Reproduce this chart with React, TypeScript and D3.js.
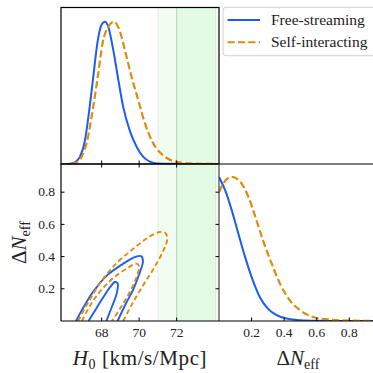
import React from "react";
import * as d3 from "d3";

// 1D marginal of H0 (normalised to peak)
const blueH0: [number, number][] = [
  [65.83, 0], [66.2, 0], [66.45, 0.005], [66.65, 0.02], [66.84, 0.05], [67.1, 0.16],
  [67.34, 0.38], [67.55, 0.61], [67.77, 0.85], [68.0, 0.98], [68.18, 1.0], [68.35, 0.965],
  [68.62, 0.8], [68.89, 0.59], [69.15, 0.4], [69.5, 0.235], [69.87, 0.12], [70.22, 0.05],
  [70.6, 0.015], [71.0, 0.004], [71.5, 0.001], [72.5, 0], [74.26, 0],
];
const orangeH0: [number, number][] = [
  [65.83, 0], [66.3, 0], [66.6, 0.008], [66.93, 0.05], [67.23, 0.165], [67.52, 0.38],
  [67.79, 0.61], [68.05, 0.85], [68.35, 0.965], [68.66, 1.0], [68.98, 0.93], [69.24, 0.8],
  [69.6, 0.61], [69.95, 0.45], [70.31, 0.285], [70.75, 0.145], [71.29, 0.06], [72.0, 0.015],
  [72.9, 0.003], [73.5, 0.001], [74.26, 0],
];

// 1D marginal of ΔNeff
const blueDN: [number, number][] = [
  [0, 1.0], [0.037, 0.91], [0.078, 0.77], [0.118, 0.61], [0.16, 0.445], [0.2, 0.306],
  [0.25, 0.167], [0.3, 0.086], [0.354, 0.04], [0.415, 0.017], [0.5, 0.005], [0.6, 0.001],
  [0.7, 0], [0.97, 0],
];
const orangeDN: [number, number][] = [
  [0, 0.894], [0.026, 0.955], [0.078, 1.0], [0.13, 0.967], [0.18, 0.863], [0.23, 0.7],
  [0.27, 0.56], [0.323, 0.4], [0.374, 0.26], [0.435, 0.144], [0.497, 0.075], [0.578, 0.028],
  [0.68, 0.01], [0.8, 0.003], [0.97, 0],
];

// 2D contours (H0, ΔNeff), open at ΔNeff = 0
const blue68: [number, number][] = [
  [67.3, 0], [67.7, 0.075], [68.1, 0.15], [68.45, 0.21], [68.7, 0.242], [68.85, 0.235],
  [68.8, 0.17], [68.55, 0.09], [68.25, 0],
];
const blue95: [number, number][] = [
  [66.63, 0], [67.1, 0.1], [67.6, 0.19], [68.3, 0.285], [69.15, 0.356], [69.8, 0.398],
  [70.12, 0.402], [70.2, 0.37], [70.0, 0.29], [69.7, 0.2], [69.3, 0.11], [68.85, 0],
];
const orange68: [number, number][] = [
  [66.95, 0], [67.4, 0.1], [68.0, 0.195], [68.7, 0.275], [69.4, 0.33], [69.85, 0.356],
  [70.0, 0.34], [69.85, 0.27], [69.5, 0.18], [69.0, 0.08], [68.55, 0],
];
const orange95: [number, number][] = [
  [66.75, 0], [67.3, 0.12], [68.0, 0.25], [68.8, 0.36], [69.7, 0.45], [70.5, 0.52],
  [71.1, 0.553], [71.4, 0.546], [71.5, 0.51], [71.3, 0.44], [70.8, 0.33], [70.2, 0.22],
  [69.6, 0.1], [69.15, 0],
];

// local H0 measurement bands
const bands: [number, number][] = [[71.0, 75.1], [72.0, 74.08]];

const h0Ticks = [68, 70, 72];
const dnTicks = [0.2, 0.4, 0.6, 0.8];
const legendLabels = ["Free-streaming", "Self-interacting"];

const BLUE = "#1d5cf2";
const ORANGE = "#e08c0b";
const DASH = "7.2 3.2";
const FONT = "Liberation Serif";

export default function App() {
  const W = 373;
  const L = 61, M = 219, R = 377;
  const T = 7.5, Mid = 164, B = 321;

  const xH0 = d3.scaleLinear().domain([65.83, 74.26]).range([L, M]);
  const yTop = d3.scaleLinear().domain([0, 1.1]).range([Mid, T]);
  const xDN = d3.scaleLinear().domain([0, 0.97]).range([M, R]);
  const yDN = d3.scaleLinear().domain([0, 0.975]).range([B, Mid]);
  const yRight = d3.scaleLinear().domain([0, 1.09]).range([B, Mid]);

  const lineTop = d3.line<[number, number]>().x((d) => xH0(d[0])).y((d) => yTop(d[1])).curve(d3.curveMonotoneX);
  const lineRight = d3.line<[number, number]>().x((d) => xDN(d[0])).y((d) => yRight(d[1])).curve(d3.curveMonotoneX);
  const lineCont = d3.line<[number, number]>().x((d) => xH0(d[0])).y((d) => yDN(d[1])).curve(d3.curveCatmullRom.alpha(0.5));

  const tick = 3.5;
  const txt = { fontFamily: FONT };

  const bandRects = (y0: number, y1: number) =>
    bands.map(([a, b], i) => (
      <g key={i}>
        <rect x={xH0(a)} y={y0} width={xH0(b) - xH0(a)} height={y1 - y0} fill="#00d400" fillOpacity={0.055} />
        <line x1={xH0(a)} x2={xH0(a)} y1={y0} y2={y1} stroke="#000" strokeOpacity={i === 0 ? 0.08 : 0.18} />
        <line x1={xH0(b)} x2={xH0(b)} y1={y0} y2={y1} stroke="#000" strokeOpacity={0.08} />
      </g>
    ));

  return (
    <div style={{ position: "absolute", left: 0, top: 0 }}>
      <svg width={W} height={W} style={{ display: "block", background: "#fff" }}>
        <defs>
          <clipPath id="cTop"><rect x={L} y={T} width={M - L} height={Mid - T} /></clipPath>
          <clipPath id="cBL"><rect x={L} y={Mid} width={M - L} height={B - Mid} /></clipPath>
          <clipPath id="cBR"><rect x={M} y={Mid - 2} width={R - M} height={B - Mid + 2} /></clipPath>
        </defs>

        {/* top-left: H0 marginal */}
        <g clipPath="url(#cTop)">
          {bandRects(T, Mid)}
          <path d={lineTop(blueH0) ?? ""} fill="none" stroke={BLUE} strokeWidth={2} />
          <path d={lineTop(orangeH0) ?? ""} fill="none" stroke={ORANGE} strokeWidth={2.2} strokeDasharray={DASH} />
        </g>

        {/* bottom-left: 2D contours */}
        <g clipPath="url(#cBL)">
          {bandRects(Mid, B)}
          {[blue95, blue68].map((c, i) => (
            <path key={"b" + i} d={lineCont(c) ?? ""} fill="none" stroke={BLUE} strokeWidth={1.9} />
          ))}
          {[orange95, orange68].map((c, i) => (
            <path key={"o" + i} d={lineCont(c) ?? ""} fill="none" stroke={ORANGE} strokeWidth={1.9} strokeDasharray="5 3" />
          ))}
        </g>

        {/* bottom-right: ΔNeff marginal */}
        <g clipPath="url(#cBR)">
          <path d={lineRight(blueDN) ?? ""} fill="none" stroke={BLUE} strokeWidth={2} />
          <path d={lineRight(orangeDN) ?? ""} fill="none" stroke={ORANGE} strokeWidth={2.2} strokeDasharray={DASH} />
        </g>

        {/* frames */}
        <rect x={L} y={T} width={M - L} height={Mid - T} fill="none" stroke="#000" strokeWidth={1.2} />
        <line x1={L} x2={W} y1={Mid} y2={Mid} stroke="#000" strokeWidth={1.2} />
        <line x1={L} x2={L} y1={Mid} y2={B} stroke="#000" strokeWidth={1.2} />
        <line x1={M} x2={M} y1={Mid} y2={B} stroke="#333" strokeWidth={1.1} />
        <line x1={L} x2={W} y1={B} y2={B} stroke="#000" strokeWidth={1.2} />

        {/* ticks */}
        {h0Ticks.map((t) => (
          <g key={"h" + t} stroke="#000" strokeWidth={1}>
            <line x1={xH0(t)} x2={xH0(t)} y1={Mid - tick} y2={Mid + tick} />
            <line x1={xH0(t)} x2={xH0(t)} y1={B} y2={B - tick} />
          </g>
        ))}
        {dnTicks.map((t) => (
          <g key={"d" + t} stroke="#000" strokeWidth={1}>
            <line x1={L} x2={L + tick} y1={yDN(t)} y2={yDN(t)} />
            <line x1={M} x2={M - tick} y1={yDN(t)} y2={yDN(t)} />
            <line x1={xDN(t)} x2={xDN(t)} y1={B} y2={B - tick} />
          </g>
        ))}

        {/* tick labels */}
        <g fontSize={13.5} fill="#222">
          {h0Ticks.map((t) => (
            <text key={"hl" + t} x={xH0(t)} y={337} textAnchor="middle" style={txt}>{t}</text>
          ))}
          {dnTicks.map((t) => (
            <text key={"yl" + t} x={L - 6} y={yDN(t) + 4.3} textAnchor="end" style={txt}>{t.toFixed(1)}</text>
          ))}
          {dnTicks.map((t) => (
            <text key={"xl" + t} x={xDN(t)} y={337} textAnchor="middle" style={txt}>{t.toFixed(1)}</text>
          ))}
        </g>

        {/* axis labels */}
        <text x={(L + M) / 2} y={365} textAnchor="middle" fontSize={21} letterSpacing={0.6} fill="#222" style={txt}>
          <tspan fontStyle="italic">H</tspan>
          <tspan fontSize={14} dy={4}>0</tspan>
          <tspan dy={-4}>{" [km/s/Mpc]"}</tspan>
        </text>
        <text x={(M + R) / 2} y={365} textAnchor="middle" fontSize={21} fill="#222" style={txt}>
          <tspan>Δ</tspan>
          <tspan fontStyle="italic">N</tspan>
          <tspan fontSize={14} dy={4}>eff</tspan>
        </text>
        <text transform={`translate(25.5,${(Mid + B) / 2}) rotate(-90)`} textAnchor="middle" fontSize={21} fill="#222" style={txt}>
          <tspan>Δ</tspan>
          <tspan fontStyle="italic">N</tspan>
          <tspan fontSize={14} dy={4}>eff</tspan>
        </text>

        {/* legend */}
        <rect x={223} y={7.3} width={170} height={48.4} rx={3} fill="#fff" stroke="#d0d0d0" strokeWidth={1} />
        {legendLabels.map((lab, i) => (
          <g key={lab}>
            <line x1={227.5} x2={260} y1={20 + i * 22.3} y2={20 + i * 22.3}
              stroke={i === 0 ? BLUE : ORANGE} strokeWidth={2}
              strokeDasharray={i === 0 ? undefined : DASH} />
            <text x={271} y={25 + i * 22} fontSize={15.5} fill="#222" style={txt}>{lab}</text>
          </g>
        ))}
      </svg>
    </div>
  );
}
